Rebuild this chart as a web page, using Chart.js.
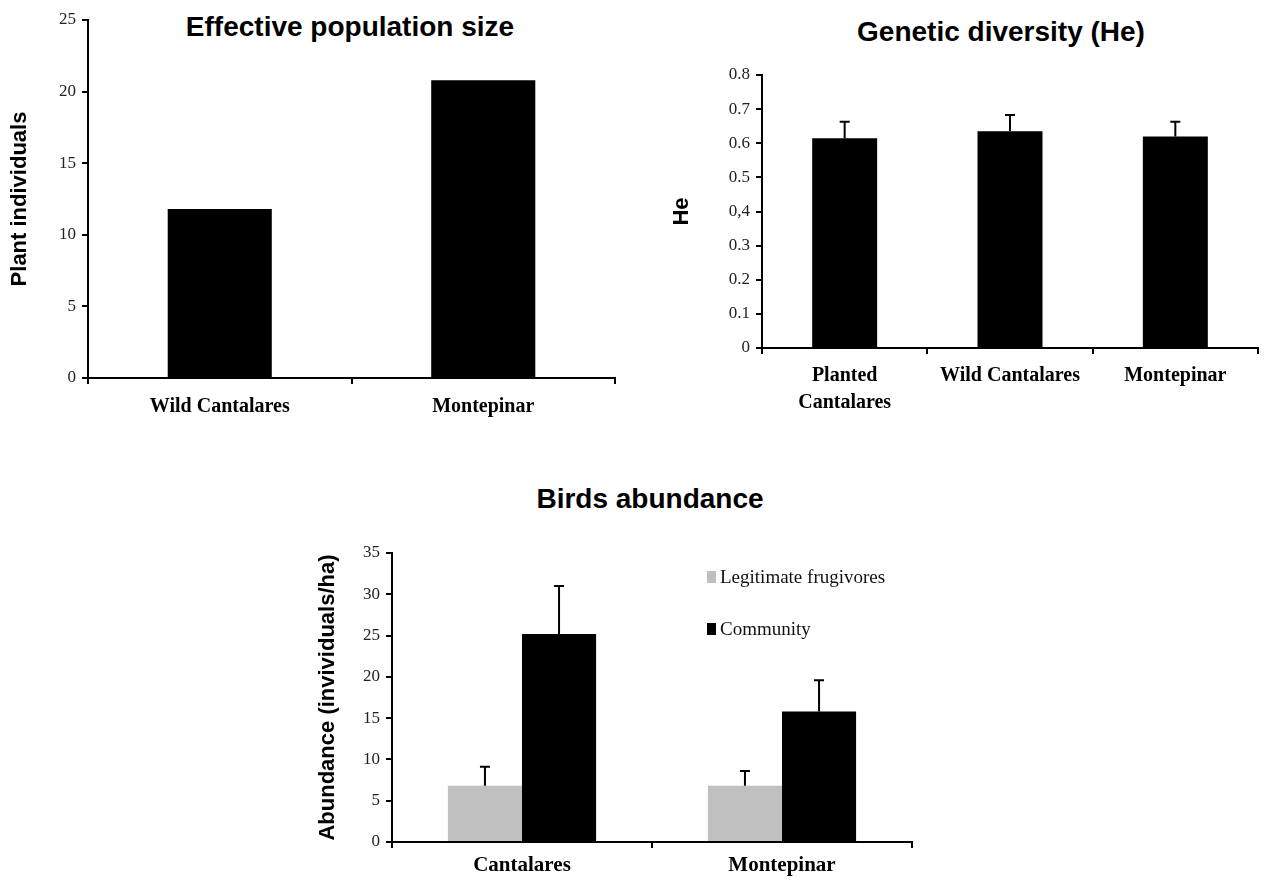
<!DOCTYPE html>
<html>
<head>
<meta charset="utf-8">
<title>Effective population size, genetic diversity and birds abundance</title>
<script src="https://cdn.jsdelivr.net/npm/chart.js@4.4.0/dist/chart.umd.min.js"></script>
<style>
    body { margin: 0; background: #fff; width: 1264px; height: 881px; position: relative; overflow: hidden; }
    .box { position: absolute; }
    .title {
        position: absolute;
        font-family: 'Liberation Sans', Arial, sans-serif;
        font-weight: bold;
        font-size: 28px;
        color: #000;
        white-space: nowrap;
        transform: translate(-50%, -50%);
    }
</style>
</head>
<body>

<div class="title" style="left:350px; top:27px;">Effective population size</div>
<div class="title" style="left:1001px; top:32px;">Genetic diversity (He)</div>
<div class="title" style="left:650px; top:499px;">Birds abundance</div>

<div class="box" style="left:0; top:0; width:640px; height:440px;"><canvas id="popChart"></canvas></div>
<div class="box" style="left:640px; top:0; width:624px; height:440px;"><canvas id="heChart"></canvas></div>
<div class="box" style="left:280px; top:470px; width:680px; height:411px;"><canvas id="birdChart"></canvas></div>

<script>
// Effective population size
const popCategories = ['Wild Cantalares', 'Montepinar'];
const popValues = [11.8, 20.8];

// Genetic diversity (He)
const heCategories = [['Planted', 'Cantalares'], 'Wild Cantalares', 'Montepinar'];
const heValues = [0.615, 0.635, 0.62];
const heErrors = [0.048, 0.048, 0.043];
const heTickLabels = ['0', '0.1', '0.2', '0.3', '0,4', '0.5', '0.6', '0.7', '0.8'];

// Birds abundance
const birdCategories = ['Cantalares', 'Montepinar'];
const frugivoreValues = [6.8, 6.8];
const frugivoreErrors = [2.3, 1.8];
const communityValues = [25.2, 15.8];
const communityErrors = [5.8, 3.8];

const SERIF = "'Liberation Serif', 'Times New Roman', serif";
const SANS = "'Liberation Sans', Arial, sans-serif";

// upper error bars, drawn from the bar top
const errorBarPlugin = {
    id: 'errorBars',
    afterDatasetsDraw(chart) {
        const ctx = chart.ctx;
        const yScale = chart.scales.y;
        chart.data.datasets.forEach((ds, di) => {
            if (!ds.errors) return;
            const meta = chart.getDatasetMeta(di);
            meta.data.forEach((bar, i) => {
                const top = yScale.getPixelForValue(ds.data[i] + ds.errors[i]);
                const base = yScale.getPixelForValue(ds.data[i]);
                ctx.save();
                ctx.strokeStyle = '#000';
                ctx.lineWidth = 2;
                ctx.beginPath();
                ctx.moveTo(bar.x, base);
                ctx.lineTo(bar.x, top);
                ctx.moveTo(bar.x - 5, top);
                ctx.lineTo(bar.x + 5, top);
                ctx.stroke();
                ctx.restore();
            });
        });
    }
};

// legend sitting inside the plot, upper right
const innerLegendPlugin = {
    id: 'innerLegend',
    afterDraw(chart, args, opts) {
        if (!opts || !opts.display) return;
        const ctx = chart.ctx;
        const area = chart.chartArea;
        ctx.save();
        ctx.font = '19px ' + SERIF;
        ctx.textBaseline = 'middle';
        chart.data.datasets.forEach((ds, i) => {
            const x = area.left + opts.x;
            const y = area.top + opts.y + i * opts.gap;
            ctx.fillStyle = ds.backgroundColor;
            ctx.fillRect(x, y - 6, 9, 12);
            ctx.fillStyle = '#111';
            ctx.fillText(ds.label, x + 13, y + 1);
        });
        ctx.restore();
    }
};

function yAxis(width, max, step, titleText, extra) {
    return Object.assign({
        min: 0,
        max: max,
        afterFit: scale => { scale.width = width; },
        border: { color: '#000', width: 2 },
        grid: { drawOnChartArea: false, color: '#000', lineWidth: 2, tickLength: 6 },
        ticks: {
            stepSize: step,
            color: '#222',
            padding: 6,
            font: { family: SERIF, size: 17 }
        },
        title: {
            display: true,
            text: titleText,
            color: '#000',
            padding: 1,
            font: { family: SANS, size: 22, weight: 'bold' }
        }
    }, extra || {});
}

function xAxis(height, pad, size, lineHeight) {
    return {
        afterFit: scale => { scale.height = height; },
        border: { color: '#000', width: 2 },
        grid: { drawOnChartArea: false, color: '#000', lineWidth: 2, tickLength: 6, offset: true },
        ticks: {
            color: '#000',
            padding: pad,
            maxRotation: 0,
            font: { family: SERIF, size: size, weight: 'bold', lineHeight: lineHeight || 1.2 }
        }
    };
}

const baseOptions = {
    responsive: true,
    maintainAspectRatio: false,
    animation: false,
    plugins: { legend: { display: false }, tooltip: { enabled: false } }
};

new Chart(document.getElementById('popChart'), {
    type: 'bar',
    data: {
        labels: popCategories,
        datasets: [{
            label: 'Effective population size',
            data: popValues,
            backgroundColor: '#000',
            categoryPercentage: 1,
            barPercentage: 0.395
        }]
    },
    options: Object.assign({}, baseOptions, {
        layout: { padding: { left: 6, top: 20, right: 25, bottom: 0 } },
        scales: {
            x: xAxis(62, 11, 20),
            y: yAxis(82, 25, 5, 'Plant individuals')
        }
    })
});

new Chart(document.getElementById('heChart'), {
    type: 'bar',
    data: {
        labels: heCategories,
        datasets: [{
            label: 'He',
            data: heValues,
            errors: heErrors,
            backgroundColor: '#000',
            categoryPercentage: 1,
            barPercentage: 0.393
        }]
    },
    options: Object.assign({}, baseOptions, {
        layout: { padding: { left: 28, top: 75, right: 6, bottom: 0 } },
        scales: {
            x: xAxis(92, 8, 20, 1.35),
            y: yAxis(94, 0.8, 0.1, 'He', {
                afterTickToLabelConversion: scale => {
                    scale.ticks.forEach((t, i) => { t.label = heTickLabels[i]; });
                }
            })
        }
    }),
    plugins: [errorBarPlugin]
});

new Chart(document.getElementById('birdChart'), {
    type: 'bar',
    data: {
        labels: birdCategories,
        datasets: [
            {
                label: 'Legitimate frugivores',
                data: frugivoreValues,
                errors: frugivoreErrors,
                backgroundColor: '#c0c0c0',
                categoryPercentage: 0.57,
                barPercentage: 1
            },
            {
                label: 'Community',
                data: communityValues,
                errors: communityErrors,
                backgroundColor: '#000',
                categoryPercentage: 0.57,
                barPercentage: 1
            }
        ]
    },
    options: Object.assign({}, baseOptions, {
        layout: { padding: { left: 34, top: 83, right: 48, bottom: 0 } },
        plugins: {
            legend: { display: false },
            tooltip: { enabled: false },
            innerLegend: { display: true, x: 315, y: 24, gap: 52 }
        },
        scales: {
            x: xAxis(39, 5, 21),
            y: yAxis(78, 35, 5, 'Abundance (invividuals/ha)')
        }
    }),
    plugins: [errorBarPlugin, innerLegendPlugin]
});
</script>
</body>
</html>
